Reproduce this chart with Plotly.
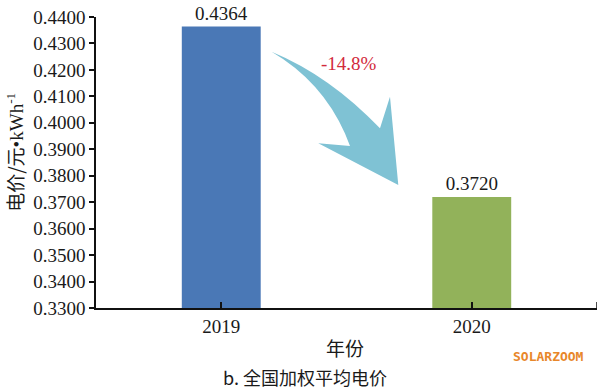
import plotly.graph_objects as go

years = ["2019", "2020"]
prices = [0.4364, 0.3720]
bar_colors = ["#4A78B6", "#92B25A"]
y_ticks = [0.33, 0.34, 0.35, 0.36, 0.37, 0.38, 0.39, 0.40, 0.41, 0.42, 0.43, 0.44]
change_label = "-14.8%"

x_pos = [1, 2]
serif = "Liberation Serif, Times New Roman, serif"
cjk = "Noto Sans CJK SC, sans-serif"

fig = go.Figure()
fig.add_trace(go.Bar(
    x=x_pos, y=prices, width=0.315,
    marker=dict(color=bar_colors, line=dict(width=0)),
    text=[f"{v:.4f}" for v in prices], textposition="outside",
    textfont=dict(family=serif, size=19, color="#1a1a1a"),
    cliponaxis=False, showlegend=False, hoverinfo="skip",
))

# decorative curved arrow (data coordinates)
path = ("M 1.201,0.4269 Q 1.4349,0.4177 1.6337,0.3979 "
        "L 1.6736,0.4099 L 1.7068,0.3765 L 1.3874,0.3923 L 1.5140,0.3912 "
        "L 1.4940,0.3960 Q 1.401,0.4158 1.201,0.4269 Z")
fig.add_shape(type="path", path=path, xref="x", yref="y",
              fillcolor="#7FC2D4", line=dict(width=0), layer="above")

# right-end tick of the x axis
fig.add_shape(type="line", xref="x", yref="y", x0=2.5, x1=2.5, y0=0.33, y1=0.3323,
              line=dict(color="#111", width=1.5))

fig.add_annotation(x=1.51, y=0.4225, xref="x", yref="y", text=change_label,
                   showarrow=False, font=dict(family=serif, size=19, color="#D22A3C"))

fig.add_annotation(x=-0.164, y=0.536, xref="paper", yref="paper", xanchor="center", yanchor="middle",
                   text="电价/元<span style='font-family:Liberation Serif'>•kWh<sup>-1</sup></span>",
                   textangle=-90, showarrow=False,
                   font=dict(family=cjk, size=19, color="#1a1a1a"))
fig.add_annotation(x=0.497, y=-0.137, xref="paper", yref="paper", text="年份",
                   xanchor="center", yanchor="middle",
                   showarrow=False, font=dict(family=cjk, size=19, color="#1a1a1a"))
fig.add_annotation(x=0.418, y=-0.236, xref="paper", yref="paper",
                   xanchor="center", yanchor="middle",
                   text="b. 全国加权平均电价", showarrow=False,
                   font=dict(family=cjk, size=18, color="#1a1a1a"))
fig.add_annotation(x=0.904, y=-0.168, xref="paper", yref="paper", text="<b>SOLARZOOM</b>",
                   xanchor="center", yanchor="middle",
                   showarrow=False, font=dict(family="DejaVu Sans Mono, monospace", size=13, color="#E8872A"))

fig.update_layout(
    width=600, height=390,
    margin=dict(l=96, r=3, t=17, b=82, autoexpand=False),
    paper_bgcolor="white", plot_bgcolor="white",
    xaxis=dict(range=[0.5, 2.5], tickvals=x_pos, ticktext=years,
               ticks="inside", ticklen=6, tickwidth=1.5, tickcolor="#111",
               showline=True, linecolor="#111", linewidth=1.5, showgrid=False, zeroline=False,
               tickfont=dict(family=serif, size=19, color="#1a1a1a")),
    yaxis=dict(range=[0.33, 0.44], tickvals=y_ticks, tickformat=".4f",
               ticks="outside", ticklen=5, tickwidth=1.5, tickcolor="#111",
               showline=True, linecolor="#111", linewidth=1.5, showgrid=False, zeroline=False,
               tickfont=dict(family=serif, size=19, color="#1a1a1a")),
)

fig.write_html("out.html", config={"displayModeBar": False},
               post_script="document.body.style.margin='0';")
